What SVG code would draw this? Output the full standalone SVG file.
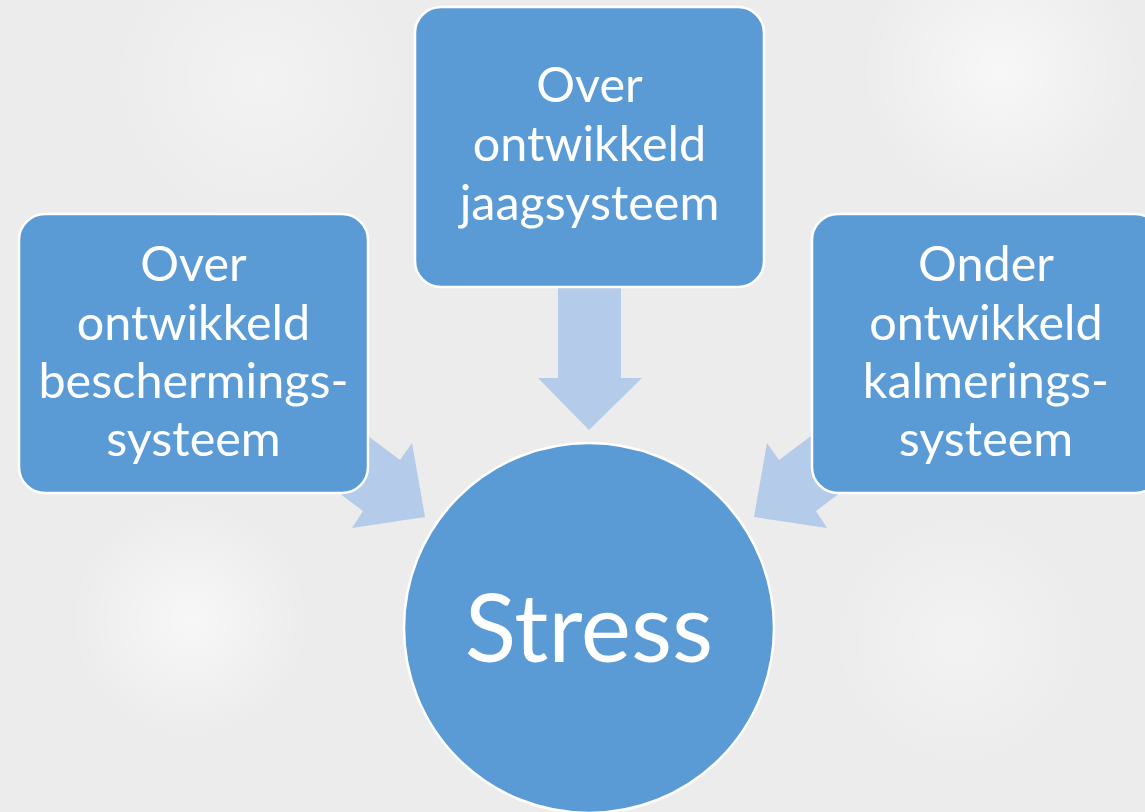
<svg xmlns="http://www.w3.org/2000/svg" width="1145" height="812" viewBox="0 0 1145 812">
<defs>
<radialGradient id="bk" cx="0.5" cy="0.5" r="0.5">
<stop offset="0" stop-color="#ffffff" stop-opacity="0.6"/>
<stop offset="1" stop-color="#ffffff" stop-opacity="0"/>
</radialGradient>
<style>
.box{fill:#5b9bd5;stroke:#ffffff;stroke-width:2.5}
.arr{fill:#b4cbe9}
.t{font-family:Lato,"Liberation Sans",sans-serif;fill:#ffffff;text-anchor:middle;font-size:48.5px}
.big{font-size:95px}
</style>
</defs>
<rect width="1145" height="812" fill="#ececec"/>
<circle cx="190" cy="620" r="120" fill="url(#bk)"/>
<circle cx="1000" cy="70" r="140" fill="url(#bk)"/>
<circle cx="260" cy="80" r="150" fill="url(#bk)" opacity="0.6"/>
<circle cx="960" cy="640" r="130" fill="url(#bk)" opacity="0.6"/>
<g id="connectors">
<polygon class="arr" points="558,285 621,285 621,378 642,378 589,430 538,378 558,378"/>
<polygon class="arr" points="336,412 400,460 412,443 425,517 352,528 363,511 299,463"/>
<polygon class="arr" points="843,412 779,460 767,443 754,517 827,528 816,511 880,463"/>
</g>
<g id="node-top">
<rect class="box" x="415" y="7" width="349" height="280" rx="26"/>
<text class="t" x="589.5" y="102">Over</text>
<text class="t" x="589.5" y="161">ontwikkeld</text>
<text class="t" x="589.5" y="220">jaagsysteem</text>
</g>
<g id="node-left">
<rect class="box" x="19" y="214" width="349" height="279" rx="26"/>
<text class="t" x="193.5" y="281">Over</text>
<text class="t" x="193.5" y="340">ontwikkeld</text>
<text class="t" x="193.5" y="398">beschermings-</text>
<text class="t" x="193.5" y="456">systeem</text>
</g>
<g id="node-right">
<rect class="box" x="812" y="214" width="349" height="279" rx="26"/>
<text class="t" x="986" y="281">Onder</text>
<text class="t" x="986" y="340">ontwikkeld</text>
<text class="t" x="986" y="398">kalmerings-</text>
<text class="t" x="986" y="456">systeem</text>
</g>
<g id="node-stress">
<circle class="box" cx="589" cy="628" r="185"/>
<text class="t big" x="589" y="662">Stress</text>
</g>
</svg>
